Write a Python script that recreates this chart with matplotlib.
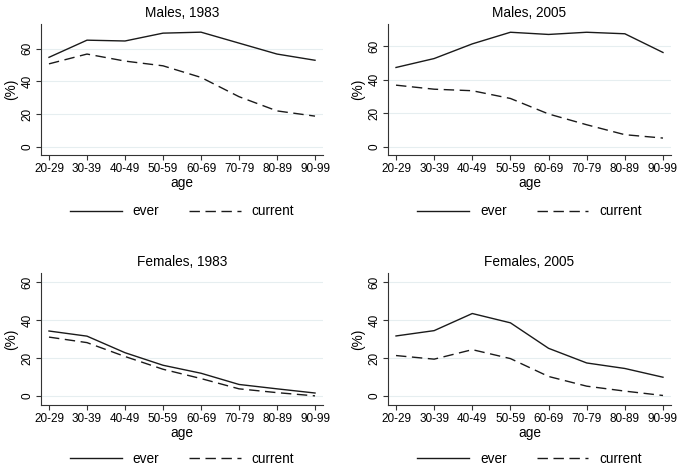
import matplotlib
matplotlib.use('Agg')
import matplotlib.pyplot as plt

plt.rcParams['font.family'] = ['Liberation Sans', 'DejaVu Sans']

ages = ['20-29', '30-39', '40-49', '50-59', '60-69', '70-79', '80-89', '90-99']

titles = ['Males, 1983', 'Males, 2005', 'Females, 1983', 'Females, 2005']

males_1983_ever = [54.8, 65.3, 64.8, 69.6, 70.2, 63.5, 56.8, 53.0]
males_1983_current = [50.8, 56.8, 52.5, 49.6, 42.5, 30.7, 22.0, 18.8]
males_2005_ever = [47.2, 52.5, 61.2, 68.1, 66.8, 68.1, 67.2, 56.1]
males_2005_current = [36.7, 34.3, 33.4, 28.8, 19.6, 13.2, 7.3, 5.3]
females_1983_ever = [34.2, 31.5, 22.8, 16.2, 12.0, 6.1, 3.8, 1.6]
females_1983_current = [31.0, 28.1, 20.8, 14.1, 9.2, 3.8, 1.8, 0.1]
females_2005_ever = [31.6, 34.4, 43.4, 38.5, 25.1, 17.4, 14.5, 9.9]
females_2005_current = [21.3, 19.4, 24.4, 19.7, 10.3, 5.2, 2.6, 0.3]

ever = [males_1983_ever, males_2005_ever, females_1983_ever, females_2005_ever]
current = [males_1983_current, males_2005_current, females_1983_current, females_2005_current]
yticks = [0, 20, 40, 60]

W, H = 685, 472
fig = plt.figure(figsize=(W / 100, H / 100), dpi=100)

# panel boxes in pixels: left, right, top, bottom
boxes = [(41, 323, 24, 155), (388, 671, 24, 155),
         (41, 323, 273, 405), (388, 671, 273, 405)]
ylims = [(-5, 75.2), (-4.75, 73), (-4.7, 64.7), (-4.7, 64.7)]
leg_y = [-0.43, -0.43, -0.41, -0.41]

line_col = '#1a1a1a'
axis_col = '#333333'
grid_col = '#e6eef0'

for i in range(4):
    l, r, t, b = boxes[i]
    ax = fig.add_axes([l / W, 1 - b / H, (r - l) / W, (b - t) / H])
    x = list(range(len(ages)))
    ax.plot(x, ever[i], color=line_col, lw=1.0, label='ever')
    ax.plot(x, current[i], color=line_col, lw=1.0, dashes=(7.5, 4), label='current')
    ax.set_xlim(-0.21, 7.21)
    ax.set_ylim(*ylims[i])
    ax.set_xticks(x)
    ax.set_xticklabels(ages)
    ax.set_yticks(yticks)
    ax.set_yticklabels([str(v) for v in yticks], rotation=90, va='center')
    ax.tick_params(labelsize=8.5, length=3.5, width=0.8, color=axis_col, pad=2)
    for s in ['top', 'right']:
        ax.spines[s].set_visible(False)
    for s in ['left', 'bottom']:
        ax.spines[s].set_linewidth(0.8)
        ax.spines[s].set_color(axis_col)
    ax.grid(axis='y', color=grid_col, lw=0.8)
    ax.set_axisbelow(True)
    ax.set_title(titles[i], fontsize=9.8, pad=5)
    ax.set_xlabel('age', fontsize=9.8, labelpad=1)
    ax.set_ylabel('(%)', fontsize=9.8, labelpad=2)
    ax.legend(loc='center', bbox_to_anchor=(0.5, leg_y[i]), ncol=2, frameon=False,
              fontsize=9.8, handlelength=3.8, handletextpad=0.8, columnspacing=2.2)

fig.savefig('out.png', dpi=100)
